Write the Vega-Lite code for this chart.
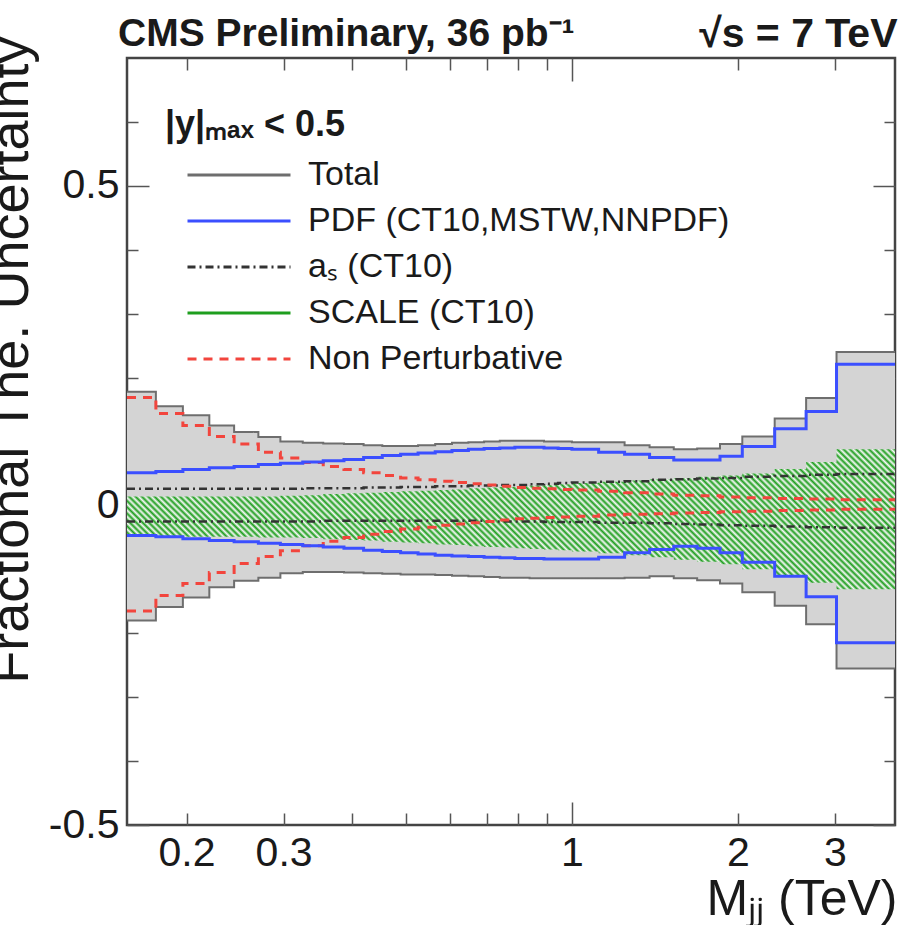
{
  "$schema": "https://vega.github.io/schema/vega-lite/v6.json",
  "width": 768,
  "height": 767,
  "autosize": {"type": "none"},
  "padding": {"left": 127, "top": 58, "right": 7, "bottom": 100},
  "background": "white",
  "title": {"text": "CMS Preliminary, 36 pb⁻¹", "anchor": "start", "frame": "group", "font": "Liberation Sans", "fontSize": 39, "fontWeight": "bold", "color": "#1a1a1a", "baseline": "alphabetic", "offset": 0, "dx": -9, "dy": 72},
  "config": {
    "font": "Liberation Sans",
    "view": {"stroke": "#444444", "strokeWidth": 2.5},
    "axis": {"domain": false, "grid": false, "tickColor": "#555555", "tickWidth": 1.5, "labelFont": "Liberation Sans", "labelColor": "#1a1a1a", "titleFont": "Liberation Sans", "titleColor": "#1a1a1a", "titleFontWeight": "normal", "labelOverlap": false, "labelFlush": false}
  },
  "data": {"values": [
    {"m": 0.156, "tu": 0.178, "td": -0.180, "pu": 0.051, "pd": -0.047, "au": 0.026, "ad": -0.025, "su": 0.014, "sd": -0.048, "nu": 0.169, "nd": -0.165},
    {"m": 0.176, "tu": 0.155, "td": -0.159, "pu": 0.053, "pd": -0.049, "au": 0.026, "ad": -0.025, "su": 0.014, "sd": -0.048, "nu": 0.144, "nd": -0.141},
    {"m": 0.197, "tu": 0.141, "td": -0.144, "pu": 0.056, "pd": -0.052, "au": 0.026, "ad": -0.025, "su": 0.014, "sd": -0.049, "nu": 0.125, "nd": -0.122},
    {"m": 0.220, "tu": 0.125, "td": -0.128, "pu": 0.059, "pd": -0.055, "au": 0.026, "ad": -0.025, "su": 0.014, "sd": -0.049, "nu": 0.108, "nd": -0.105},
    {"m": 0.244, "tu": 0.115, "td": -0.118, "pu": 0.061, "pd": -0.057, "au": 0.026, "ad": -0.025, "su": 0.014, "sd": -0.049, "nu": 0.096, "nd": -0.091},
    {"m": 0.270, "tu": 0.107, "td": -0.113, "pu": 0.064, "pd": -0.059, "au": 0.026, "ad": -0.025, "su": 0.014, "sd": -0.050, "nu": 0.083, "nd": -0.080},
    {"m": 0.296, "tu": 0.100, "td": -0.106, "pu": 0.066, "pd": -0.061, "au": 0.026, "ad": -0.025, "su": 0.015, "sd": -0.050, "nu": 0.074, "nd": -0.071},
    {"m": 0.325, "tu": 0.098, "td": -0.104, "pu": 0.068, "pd": -0.063, "au": 0.027, "ad": -0.025, "su": 0.016, "sd": -0.051, "nu": 0.067, "nd": -0.063},
    {"m": 0.354, "tu": 0.097, "td": -0.104, "pu": 0.070, "pd": -0.065, "au": 0.027, "ad": -0.024, "su": 0.018, "sd": -0.053, "nu": 0.061, "nd": -0.056},
    {"m": 0.386, "tu": 0.096, "td": -0.105, "pu": 0.072, "pd": -0.067, "au": 0.027, "ad": -0.024, "su": 0.019, "sd": -0.054, "nu": 0.056, "nd": -0.050},
    {"m": 0.419, "tu": 0.094, "td": -0.106, "pu": 0.075, "pd": -0.070, "au": 0.028, "ad": -0.024, "su": 0.020, "sd": -0.055, "nu": 0.051, "nd": -0.045},
    {"m": 0.453, "tu": 0.093, "td": -0.107, "pu": 0.078, "pd": -0.072, "au": 0.028, "ad": -0.024, "su": 0.021, "sd": -0.057, "nu": 0.047, "nd": -0.041},
    {"m": 0.489, "tu": 0.093, "td": -0.108, "pu": 0.080, "pd": -0.074, "au": 0.029, "ad": -0.024, "su": 0.022, "sd": -0.058, "nu": 0.043, "nd": -0.037},
    {"m": 0.526, "tu": 0.094, "td": -0.108, "pu": 0.082, "pd": -0.076, "au": 0.029, "ad": -0.024, "su": 0.023, "sd": -0.059, "nu": 0.040, "nd": -0.034},
    {"m": 0.565, "tu": 0.096, "td": -0.109, "pu": 0.084, "pd": -0.078, "au": 0.030, "ad": -0.024, "su": 0.024, "sd": -0.061, "nu": 0.038, "nd": -0.031},
    {"m": 0.606, "tu": 0.098, "td": -0.110, "pu": 0.086, "pd": -0.079, "au": 0.030, "ad": -0.024, "su": 0.025, "sd": -0.062, "nu": 0.036, "nd": -0.029},
    {"m": 0.649, "tu": 0.099, "td": -0.111, "pu": 0.088, "pd": -0.080, "au": 0.031, "ad": -0.024, "su": 0.027, "sd": -0.064, "nu": 0.034, "nd": -0.027},
    {"m": 0.693, "tu": 0.100, "td": -0.112, "pu": 0.089, "pd": -0.081, "au": 0.031, "ad": -0.025, "su": 0.028, "sd": -0.065, "nu": 0.032, "nd": -0.025},
    {"m": 0.740, "tu": 0.101, "td": -0.113, "pu": 0.090, "pd": -0.082, "au": 0.032, "ad": -0.025, "su": 0.029, "sd": -0.066, "nu": 0.030, "nd": -0.023},
    {"m": 0.788, "tu": 0.101, "td": -0.113, "pu": 0.091, "pd": -0.083, "au": 0.032, "ad": -0.025, "su": 0.030, "sd": -0.067, "nu": 0.028, "nd": -0.021},
    {"m": 0.838, "tu": 0.101, "td": -0.114, "pu": 0.091, "pd": -0.083, "au": 0.033, "ad": -0.025, "su": 0.031, "sd": -0.068, "nu": 0.027, "nd": -0.020},
    {"m": 0.890, "tu": 0.100, "td": -0.114, "pu": 0.090, "pd": -0.084, "au": 0.034, "ad": -0.026, "su": 0.032, "sd": -0.069, "nu": 0.026, "nd": -0.019},
    {"m": 0.944, "tu": 0.100, "td": -0.114, "pu": 0.089, "pd": -0.084, "au": 0.035, "ad": -0.026, "su": 0.033, "sd": -0.070, "nu": 0.025, "nd": -0.018},
    {"m": 1.000, "tu": 0.099, "td": -0.114, "pu": 0.088, "pd": -0.084, "au": 0.036, "ad": -0.026, "su": 0.035, "sd": -0.072, "nu": 0.024, "nd": -0.017},
    {"m": 1.118, "tu": 0.099, "td": -0.114, "pu": 0.083, "pd": -0.081, "au": 0.037, "ad": -0.027, "su": 0.037, "sd": -0.075, "nu": 0.022, "nd": -0.015},
    {"m": 1.246, "tu": 0.094, "td": -0.113, "pu": 0.080, "pd": -0.074, "au": 0.038, "ad": -0.027, "su": 0.039, "sd": -0.078, "nu": 0.020, "nd": -0.014},
    {"m": 1.383, "tu": 0.091, "td": -0.111, "pu": 0.075, "pd": -0.069, "au": 0.040, "ad": -0.028, "su": 0.041, "sd": -0.081, "nu": 0.018, "nd": -0.013},
    {"m": 1.530, "tu": 0.088, "td": -0.114, "pu": 0.071, "pd": -0.064, "au": 0.041, "ad": -0.029, "su": 0.043, "sd": -0.085, "nu": 0.016, "nd": -0.012},
    {"m": 1.687, "tu": 0.089, "td": -0.117, "pu": 0.071, "pd": -0.067, "au": 0.042, "ad": -0.030, "su": 0.045, "sd": -0.088, "nu": 0.015, "nd": -0.011},
    {"m": 1.856, "tu": 0.096, "td": -0.122, "pu": 0.077, "pd": -0.074, "au": 0.043, "ad": -0.031, "su": 0.047, "sd": -0.092, "nu": 0.013, "nd": -0.010},
    {"m": 2.037, "tu": 0.108, "td": -0.136, "pu": 0.092, "pd": -0.089, "au": 0.045, "ad": -0.032, "su": 0.050, "sd": -0.100, "nu": 0.012, "nd": -0.009},
    {"m": 2.332, "tu": 0.136, "td": -0.157, "pu": 0.120, "pd": -0.111, "au": 0.046, "ad": -0.033, "su": 0.057, "sd": -0.111, "nu": 0.011, "nd": -0.008},
    {"m": 2.659, "tu": 0.168, "td": -0.186, "pu": 0.147, "pd": -0.143, "au": 0.048, "ad": -0.034, "su": 0.068, "sd": -0.121, "nu": 0.010, "nd": -0.007},
    {"m": 3.019, "tu": 0.240, "td": -0.255, "pu": 0.221, "pd": -0.215, "au": 0.049, "ad": -0.035, "su": 0.088, "sd": -0.131, "nu": 0.009, "nd": -0.006},
    {"m": 3.854, "tu": 0.240, "td": -0.255, "pu": 0.221, "pd": -0.215, "au": 0.049, "ad": -0.035, "su": 0.088, "sd": -0.131, "nu": 0.009, "nd": -0.006}
  ]},
  "encoding": {
    "x": {"field": "m", "type": "quantitative", "scale": {"type": "log", "domain": [0.156, 3.854], "nice": false}, "axis": null}
  },
  "resolve": {"axis": {"x": "independent", "y": "independent"}},
  "layer": [
    {
      "mark": {"type": "area", "interpolate": "step-after", "fill": "#d4d4d4"},
      "encoding": {
        "x": {"field": "m", "type": "quantitative", "scale": {"type": "log", "domain": [0.156, 3.854], "nice": false},
          "axis": {"orient": "bottom", "values": [0.2, 0.3, 0.4, 0.5, 0.6, 0.7, 0.8, 0.9, 1, 2, 3],
            "labelExpr": "datum.value == 0.2 || datum.value == 0.3 || datum.value == 1 || datum.value == 2 || datum.value == 3 ? format(datum.value, '~g') : ''",
            "tickSize": {"condition": {"test": "datum.value == 1", "value": -23}, "value": -12},
            "labelPadding": {"condition": {"test": "datum.value == 1", "value": 31}, "value": 20},
            "labelFontSize": 41, "labelBaseline": "top",
            "title": "Mⱼⱼ (TeV)", "titleFontSize": 50, "titleAlign": "right", "titleBaseline": "alphabetic", "titleX": 770, "titleY": 89}},
        "y": {"field": "tu", "type": "quantitative", "scale": {"domain": [-0.5, 0.7], "nice": false, "zero": false},
          "axis": {"orient": "left", "values": [-0.5, -0.4, -0.3, -0.2, -0.1, 0, 0.1, 0.2, 0.3, 0.4, 0.5, 0.6],
            "labelExpr": "datum.value == 0.5 ? '0.5' : datum.value == 0 ? '0' : datum.value == -0.5 ? '-0.5' : ''",
            "tickSize": {"condition": {"test": "datum.value == 0.5 || datum.value == 0 || datum.value == -0.5", "value": -22}, "value": -11},
            "labelPadding": 30, "labelFontSize": 41,
            "title": "Fractional The. Uncertainty", "titleFontSize": 54, "titleAngle": 270, "titleAlign": "right", "titleBaseline": "alphabetic", "titleX": -100, "titleY": -22}},
        "y2": {"field": "td"}
      }
    },
    {
      "mark": {"type": "area", "interpolate": "step-after", "fill": {"gradient": "linear", "x1": 0, "y1": 1, "x2": 1.2, "y2": 0.78, "stops": [
        {"offset": 0, "color": "#1e9e1e"}, {"offset": 0.0033, "color": "#f8f8f8"}, {"offset": 0.0067, "color": "#1e9e1e"},
        {"offset": 0.01, "color": "#f8f8f8"}, {"offset": 0.0133, "color": "#1e9e1e"}, {"offset": 0.0167, "color": "#f8f8f8"},
        {"offset": 0.02, "color": "#1e9e1e"}, {"offset": 0.0233, "color": "#f8f8f8"}, {"offset": 0.0267, "color": "#1e9e1e"},
        {"offset": 0.03, "color": "#f8f8f8"}, {"offset": 0.0333, "color": "#1e9e1e"}, {"offset": 0.0367, "color": "#f8f8f8"},
        {"offset": 0.04, "color": "#1e9e1e"}, {"offset": 0.0433, "color": "#f8f8f8"}, {"offset": 0.0467, "color": "#1e9e1e"},
        {"offset": 0.05, "color": "#f8f8f8"}, {"offset": 0.0533, "color": "#1e9e1e"}, {"offset": 0.0567, "color": "#f8f8f8"},
        {"offset": 0.06, "color": "#1e9e1e"}, {"offset": 0.0633, "color": "#f8f8f8"}, {"offset": 0.0667, "color": "#1e9e1e"},
        {"offset": 0.07, "color": "#f8f8f8"}, {"offset": 0.0733, "color": "#1e9e1e"}, {"offset": 0.0767, "color": "#f8f8f8"},
        {"offset": 0.08, "color": "#1e9e1e"}, {"offset": 0.0833, "color": "#f8f8f8"}, {"offset": 0.0867, "color": "#1e9e1e"},
        {"offset": 0.09, "color": "#f8f8f8"}, {"offset": 0.0933, "color": "#1e9e1e"}, {"offset": 0.0967, "color": "#f8f8f8"},
        {"offset": 0.10, "color": "#1e9e1e"}, {"offset": 0.1033, "color": "#f8f8f8"}, {"offset": 0.1067, "color": "#1e9e1e"},
        {"offset": 0.11, "color": "#f8f8f8"}, {"offset": 0.1133, "color": "#1e9e1e"}, {"offset": 0.1167, "color": "#f8f8f8"},
        {"offset": 0.12, "color": "#1e9e1e"}, {"offset": 0.1233, "color": "#f8f8f8"}, {"offset": 0.1267, "color": "#1e9e1e"},
        {"offset": 0.13, "color": "#f8f8f8"}, {"offset": 0.1333, "color": "#1e9e1e"}, {"offset": 0.1367, "color": "#f8f8f8"},
        {"offset": 0.14, "color": "#1e9e1e"}, {"offset": 0.1433, "color": "#f8f8f8"}, {"offset": 0.1467, "color": "#1e9e1e"},
        {"offset": 0.15, "color": "#f8f8f8"}, {"offset": 0.1533, "color": "#1e9e1e"}, {"offset": 0.1567, "color": "#f8f8f8"},
        {"offset": 0.16, "color": "#1e9e1e"}, {"offset": 0.1633, "color": "#f8f8f8"}, {"offset": 0.1667, "color": "#1e9e1e"},
        {"offset": 0.17, "color": "#f8f8f8"}, {"offset": 0.1733, "color": "#1e9e1e"}, {"offset": 0.1767, "color": "#f8f8f8"},
        {"offset": 0.18, "color": "#1e9e1e"}, {"offset": 0.1833, "color": "#f8f8f8"}, {"offset": 0.1867, "color": "#1e9e1e"},
        {"offset": 0.19, "color": "#f8f8f8"}, {"offset": 0.1933, "color": "#1e9e1e"}, {"offset": 0.1967, "color": "#f8f8f8"},
        {"offset": 0.20, "color": "#1e9e1e"}, {"offset": 0.2033, "color": "#f8f8f8"}, {"offset": 0.2067, "color": "#1e9e1e"},
        {"offset": 0.21, "color": "#f8f8f8"}, {"offset": 0.2133, "color": "#1e9e1e"}, {"offset": 0.2167, "color": "#f8f8f8"},
        {"offset": 0.22, "color": "#1e9e1e"}, {"offset": 0.2233, "color": "#f8f8f8"}, {"offset": 0.2267, "color": "#1e9e1e"},
        {"offset": 0.23, "color": "#f8f8f8"}, {"offset": 0.2333, "color": "#1e9e1e"}, {"offset": 0.2367, "color": "#f8f8f8"},
        {"offset": 0.24, "color": "#1e9e1e"}, {"offset": 0.2433, "color": "#f8f8f8"}, {"offset": 0.2467, "color": "#1e9e1e"},
        {"offset": 0.25, "color": "#f8f8f8"}, {"offset": 0.2533, "color": "#1e9e1e"}, {"offset": 0.2567, "color": "#f8f8f8"},
        {"offset": 0.26, "color": "#1e9e1e"}, {"offset": 0.2633, "color": "#f8f8f8"}, {"offset": 0.2667, "color": "#1e9e1e"},
        {"offset": 0.27, "color": "#f8f8f8"}, {"offset": 0.2733, "color": "#1e9e1e"}, {"offset": 0.2767, "color": "#f8f8f8"},
        {"offset": 0.28, "color": "#1e9e1e"}, {"offset": 0.2833, "color": "#f8f8f8"}, {"offset": 0.2867, "color": "#1e9e1e"},
        {"offset": 0.29, "color": "#f8f8f8"}, {"offset": 0.2933, "color": "#1e9e1e"}, {"offset": 0.2967, "color": "#f8f8f8"},
        {"offset": 0.30, "color": "#1e9e1e"}, {"offset": 0.3033, "color": "#f8f8f8"}, {"offset": 0.3067, "color": "#1e9e1e"},
        {"offset": 0.31, "color": "#f8f8f8"}, {"offset": 0.3133, "color": "#1e9e1e"}, {"offset": 0.3167, "color": "#f8f8f8"},
        {"offset": 0.32, "color": "#1e9e1e"}, {"offset": 0.3233, "color": "#f8f8f8"}, {"offset": 0.3267, "color": "#1e9e1e"},
        {"offset": 0.33, "color": "#f8f8f8"}, {"offset": 0.3333, "color": "#1e9e1e"}, {"offset": 0.3367, "color": "#f8f8f8"},
        {"offset": 0.34, "color": "#1e9e1e"}, {"offset": 0.3433, "color": "#f8f8f8"}, {"offset": 0.3467, "color": "#1e9e1e"},
        {"offset": 0.35, "color": "#f8f8f8"}, {"offset": 0.3533, "color": "#1e9e1e"}, {"offset": 0.3567, "color": "#f8f8f8"},
        {"offset": 0.36, "color": "#1e9e1e"}, {"offset": 0.3633, "color": "#f8f8f8"}, {"offset": 0.3667, "color": "#1e9e1e"},
        {"offset": 0.37, "color": "#f8f8f8"}, {"offset": 0.3733, "color": "#1e9e1e"}, {"offset": 0.3767, "color": "#f8f8f8"},
        {"offset": 0.38, "color": "#1e9e1e"}, {"offset": 0.3833, "color": "#f8f8f8"}, {"offset": 0.3867, "color": "#1e9e1e"},
        {"offset": 0.39, "color": "#f8f8f8"}, {"offset": 0.3933, "color": "#1e9e1e"}, {"offset": 0.3967, "color": "#f8f8f8"},
        {"offset": 0.40, "color": "#1e9e1e"}, {"offset": 0.4033, "color": "#f8f8f8"}, {"offset": 0.4067, "color": "#1e9e1e"},
        {"offset": 0.41, "color": "#f8f8f8"}, {"offset": 0.4133, "color": "#1e9e1e"}, {"offset": 0.4167, "color": "#f8f8f8"},
        {"offset": 0.42, "color": "#1e9e1e"}, {"offset": 0.4233, "color": "#f8f8f8"}, {"offset": 0.4267, "color": "#1e9e1e"},
        {"offset": 0.43, "color": "#f8f8f8"}, {"offset": 0.4333, "color": "#1e9e1e"}, {"offset": 0.4367, "color": "#f8f8f8"},
        {"offset": 0.44, "color": "#1e9e1e"}, {"offset": 0.4433, "color": "#f8f8f8"}, {"offset": 0.4467, "color": "#1e9e1e"},
        {"offset": 0.45, "color": "#f8f8f8"}, {"offset": 0.4533, "color": "#1e9e1e"}, {"offset": 0.4567, "color": "#f8f8f8"},
        {"offset": 0.46, "color": "#1e9e1e"}, {"offset": 0.4633, "color": "#f8f8f8"}, {"offset": 0.4667, "color": "#1e9e1e"},
        {"offset": 0.47, "color": "#f8f8f8"}, {"offset": 0.4733, "color": "#1e9e1e"}, {"offset": 0.4767, "color": "#f8f8f8"},
        {"offset": 0.48, "color": "#1e9e1e"}, {"offset": 0.4833, "color": "#f8f8f8"}, {"offset": 0.4867, "color": "#1e9e1e"},
        {"offset": 0.49, "color": "#f8f8f8"}, {"offset": 0.4933, "color": "#1e9e1e"}, {"offset": 0.4967, "color": "#f8f8f8"},
        {"offset": 0.50, "color": "#1e9e1e"}, {"offset": 0.5033, "color": "#f8f8f8"}, {"offset": 0.5067, "color": "#1e9e1e"},
        {"offset": 0.51, "color": "#f8f8f8"}, {"offset": 0.5133, "color": "#1e9e1e"}, {"offset": 0.5167, "color": "#f8f8f8"},
        {"offset": 0.52, "color": "#1e9e1e"}, {"offset": 0.5233, "color": "#f8f8f8"}, {"offset": 0.5267, "color": "#1e9e1e"},
        {"offset": 0.53, "color": "#f8f8f8"}, {"offset": 0.5333, "color": "#1e9e1e"}, {"offset": 0.5367, "color": "#f8f8f8"},
        {"offset": 0.54, "color": "#1e9e1e"}, {"offset": 0.5433, "color": "#f8f8f8"}, {"offset": 0.5467, "color": "#1e9e1e"},
        {"offset": 0.55, "color": "#f8f8f8"}, {"offset": 0.5533, "color": "#1e9e1e"}, {"offset": 0.5567, "color": "#f8f8f8"},
        {"offset": 0.56, "color": "#1e9e1e"}, {"offset": 0.5633, "color": "#f8f8f8"}, {"offset": 0.5667, "color": "#1e9e1e"},
        {"offset": 0.57, "color": "#f8f8f8"}, {"offset": 0.5733, "color": "#1e9e1e"}, {"offset": 0.5767, "color": "#f8f8f8"},
        {"offset": 0.58, "color": "#1e9e1e"}, {"offset": 0.5833, "color": "#f8f8f8"}, {"offset": 0.5867, "color": "#1e9e1e"},
        {"offset": 0.59, "color": "#f8f8f8"}, {"offset": 0.5933, "color": "#1e9e1e"}, {"offset": 0.5967, "color": "#f8f8f8"},
        {"offset": 0.60, "color": "#1e9e1e"}, {"offset": 0.6033, "color": "#f8f8f8"}, {"offset": 0.6067, "color": "#1e9e1e"},
        {"offset": 0.61, "color": "#f8f8f8"}, {"offset": 0.6133, "color": "#1e9e1e"}, {"offset": 0.6167, "color": "#f8f8f8"},
        {"offset": 0.62, "color": "#1e9e1e"}, {"offset": 0.6233, "color": "#f8f8f8"}, {"offset": 0.6267, "color": "#1e9e1e"},
        {"offset": 0.63, "color": "#f8f8f8"}, {"offset": 0.6333, "color": "#1e9e1e"}, {"offset": 0.6367, "color": "#f8f8f8"},
        {"offset": 0.64, "color": "#1e9e1e"}, {"offset": 0.6433, "color": "#f8f8f8"}, {"offset": 0.6467, "color": "#1e9e1e"},
        {"offset": 0.65, "color": "#f8f8f8"}, {"offset": 0.6533, "color": "#1e9e1e"}, {"offset": 0.6567, "color": "#f8f8f8"},
        {"offset": 0.66, "color": "#1e9e1e"}, {"offset": 0.6633, "color": "#f8f8f8"}, {"offset": 0.6667, "color": "#1e9e1e"},
        {"offset": 0.67, "color": "#f8f8f8"}, {"offset": 0.6733, "color": "#1e9e1e"}, {"offset": 0.6767, "color": "#f8f8f8"},
        {"offset": 0.68, "color": "#1e9e1e"}, {"offset": 0.6833, "color": "#f8f8f8"}, {"offset": 0.6867, "color": "#1e9e1e"},
        {"offset": 0.69, "color": "#f8f8f8"}, {"offset": 0.6933, "color": "#1e9e1e"}, {"offset": 0.6967, "color": "#f8f8f8"},
        {"offset": 0.70, "color": "#1e9e1e"}, {"offset": 0.7033, "color": "#f8f8f8"}, {"offset": 0.7067, "color": "#1e9e1e"},
        {"offset": 0.71, "color": "#f8f8f8"}, {"offset": 0.7133, "color": "#1e9e1e"}, {"offset": 0.7167, "color": "#f8f8f8"},
        {"offset": 0.72, "color": "#1e9e1e"}, {"offset": 0.7233, "color": "#f8f8f8"}, {"offset": 0.7267, "color": "#1e9e1e"},
        {"offset": 0.73, "color": "#f8f8f8"}, {"offset": 0.7333, "color": "#1e9e1e"}, {"offset": 0.7367, "color": "#f8f8f8"},
        {"offset": 0.74, "color": "#1e9e1e"}, {"offset": 0.7433, "color": "#f8f8f8"}, {"offset": 0.7467, "color": "#1e9e1e"},
        {"offset": 0.75, "color": "#f8f8f8"}, {"offset": 0.7533, "color": "#1e9e1e"}, {"offset": 0.7567, "color": "#f8f8f8"},
        {"offset": 0.76, "color": "#1e9e1e"}, {"offset": 0.7633, "color": "#f8f8f8"}, {"offset": 0.7667, "color": "#1e9e1e"},
        {"offset": 0.77, "color": "#f8f8f8"}, {"offset": 0.7733, "color": "#1e9e1e"}, {"offset": 0.7767, "color": "#f8f8f8"},
        {"offset": 0.78, "color": "#1e9e1e"}, {"offset": 0.7833, "color": "#f8f8f8"}, {"offset": 0.7867, "color": "#1e9e1e"},
        {"offset": 0.79, "color": "#f8f8f8"}, {"offset": 0.7933, "color": "#1e9e1e"}, {"offset": 0.7967, "color": "#f8f8f8"},
        {"offset": 0.80, "color": "#1e9e1e"}, {"offset": 0.8033, "color": "#f8f8f8"}, {"offset": 0.8067, "color": "#1e9e1e"},
        {"offset": 0.81, "color": "#f8f8f8"}, {"offset": 0.8133, "color": "#1e9e1e"}, {"offset": 0.8167, "color": "#f8f8f8"},
        {"offset": 0.82, "color": "#1e9e1e"}, {"offset": 0.8233, "color": "#f8f8f8"}, {"offset": 0.8267, "color": "#1e9e1e"},
        {"offset": 0.83, "color": "#f8f8f8"}, {"offset": 0.8333, "color": "#1e9e1e"}, {"offset": 0.8367, "color": "#f8f8f8"},
        {"offset": 0.84, "color": "#1e9e1e"}, {"offset": 0.8433, "color": "#f8f8f8"}, {"offset": 0.8467, "color": "#1e9e1e"},
        {"offset": 0.85, "color": "#f8f8f8"}, {"offset": 0.8533, "color": "#1e9e1e"}, {"offset": 0.8567, "color": "#f8f8f8"},
        {"offset": 0.86, "color": "#1e9e1e"}, {"offset": 0.8633, "color": "#f8f8f8"}, {"offset": 0.8667, "color": "#1e9e1e"},
        {"offset": 0.87, "color": "#f8f8f8"}, {"offset": 0.8733, "color": "#1e9e1e"}, {"offset": 0.8767, "color": "#f8f8f8"},
        {"offset": 0.88, "color": "#1e9e1e"}, {"offset": 0.8833, "color": "#f8f8f8"}, {"offset": 0.8867, "color": "#1e9e1e"},
        {"offset": 0.89, "color": "#f8f8f8"}, {"offset": 0.8933, "color": "#1e9e1e"}, {"offset": 0.8967, "color": "#f8f8f8"},
        {"offset": 0.90, "color": "#1e9e1e"}, {"offset": 0.9033, "color": "#f8f8f8"}, {"offset": 0.9067, "color": "#1e9e1e"},
        {"offset": 0.91, "color": "#f8f8f8"}, {"offset": 0.9133, "color": "#1e9e1e"}, {"offset": 0.9167, "color": "#f8f8f8"},
        {"offset": 0.92, "color": "#1e9e1e"}, {"offset": 0.9233, "color": "#f8f8f8"}, {"offset": 0.9267, "color": "#1e9e1e"},
        {"offset": 0.93, "color": "#f8f8f8"}, {"offset": 0.9333, "color": "#1e9e1e"}, {"offset": 0.9367, "color": "#f8f8f8"},
        {"offset": 0.94, "color": "#1e9e1e"}, {"offset": 0.9433, "color": "#f8f8f8"}, {"offset": 0.9467, "color": "#1e9e1e"},
        {"offset": 0.95, "color": "#f8f8f8"}, {"offset": 0.9533, "color": "#1e9e1e"}, {"offset": 0.9567, "color": "#f8f8f8"},
        {"offset": 0.96, "color": "#1e9e1e"}, {"offset": 0.9633, "color": "#f8f8f8"}, {"offset": 0.9667, "color": "#1e9e1e"},
        {"offset": 0.97, "color": "#f8f8f8"}, {"offset": 0.9733, "color": "#1e9e1e"}, {"offset": 0.9767, "color": "#f8f8f8"},
        {"offset": 0.98, "color": "#1e9e1e"}, {"offset": 0.9833, "color": "#f8f8f8"}, {"offset": 0.9867, "color": "#1e9e1e"},
        {"offset": 0.99, "color": "#f8f8f8"}, {"offset": 0.9933, "color": "#1e9e1e"}, {"offset": 0.9967, "color": "#f8f8f8"},
        {"offset": 1, "color": "#1e9e1e"}
      ]}},
      "encoding": {
        "y": {"field": "su", "type": "quantitative", "scale": {"domain": [-0.5, 0.7], "nice": false, "zero": false}, "axis": null},
        "y2": {"field": "sd"}
      }
    },
    {"mark": {"type": "line", "interpolate": "step-after", "strokeWidth": 2},
     "encoding": {
       "y": {"field": "tu", "type": "quantitative", "scale": {"domain": [-0.5, 0.7]}, "axis": null},
       "color": {"datum": "Total", "type": "nominal",
         "scale": {"domain": ["Total", "PDF (CT10,MSTW,NNPDF)", "aₛ (CT10)", "SCALE (CT10)", "Non Perturbative"], "range": ["#6e6e6e", "#3b4fff", "#333333", "#1e9e1e", "#f2453d"]},
         "legend": {
           "title": "|y|ₘₐₓ < 0.5", "orient": "none", "legendX": 38, "legendY": 50, "padding": 0,
           "titleFont": "Liberation Sans", "titleFontSize": 36, "titleFontWeight": "bold", "titleColor": "#1a1a1a", "titlePadding": 8, "titleLimit": 1000,
           "labelFont": "Liberation Sans", "labelFontSize": 34, "labelColor": "#1a1a1a", "labelOffset": 16, "labelLimit": 1000,
           "clipHeight": 46, "rowPadding": 0, "symbolOffset": 21, "symbolSize": 10609, "symbolType": "stroke", "symbolStrokeWidth": 3,
           "encode": {"symbols": {"update": {
             "shape": {"condition": {"test": "datum.value === 'Total' || datum.label === 'Total' || datum.value === 'SCALE (CT10)' || datum.label === 'SCALE (CT10)'", "value": "M-1,-0.33H1V0.33H-1Z"}, "value": "stroke"},
             "fill": {"condition": [
               {"test": "datum.value === 'Total' || datum.label === 'Total'", "value": "#d4d4d4"},
               {"test": "datum.value === 'SCALE (CT10)' || datum.label === 'SCALE (CT10)'", "value": "#7cc67c"}
             ], "value": "transparent"}
           }}}
         }},
       "strokeDash": {"datum": "Total", "type": "nominal",
         "scale": {"domain": ["Total", "PDF (CT10,MSTW,NNPDF)", "aₛ (CT10)", "SCALE (CT10)", "Non Perturbative"], "range": [[1, 0], [1, 0], [8, 4, 2, 4], [1, 0], [9, 7]]},
         "legend": {
           "title": "|y|ₘₐₓ < 0.5", "orient": "none", "legendX": 38, "legendY": 50, "padding": 0,
           "titleFont": "Liberation Sans", "titleFontSize": 36, "titleFontWeight": "bold", "titleColor": "#1a1a1a", "titlePadding": 8, "titleLimit": 1000,
           "labelFont": "Liberation Sans", "labelFontSize": 34, "labelColor": "#1a1a1a", "labelOffset": 16, "labelLimit": 1000,
           "clipHeight": 46, "rowPadding": 0, "symbolOffset": 21, "symbolSize": 10609, "symbolType": "stroke", "symbolStrokeWidth": 3
         }}
     }},
    {"mark": {"type": "line", "interpolate": "step-after", "strokeWidth": 2},
     "encoding": {
       "y": {"field": "td", "type": "quantitative", "scale": {"domain": [-0.5, 0.7]}, "axis": null},
       "color": {"datum": "Total", "type": "nominal", "scale": {"domain": ["Total", "PDF (CT10,MSTW,NNPDF)", "aₛ (CT10)", "SCALE (CT10)", "Non Perturbative"], "range": ["#6e6e6e", "#3b4fff", "#333333", "#1e9e1e", "#f2453d"]}},
       "strokeDash": {"datum": "Total", "type": "nominal", "scale": {"domain": ["Total", "PDF (CT10,MSTW,NNPDF)", "aₛ (CT10)", "SCALE (CT10)", "Non Perturbative"], "range": [[1, 0], [1, 0], [8, 4, 2, 4], [1, 0], [9, 7]]}}
     }},
    {"mark": {"type": "line", "interpolate": "step-after", "strokeWidth": 2.5},
     "encoding": {
       "y": {"field": "au", "type": "quantitative", "scale": {"domain": [-0.5, 0.7]}, "axis": null},
       "color": {"datum": "aₛ (CT10)", "type": "nominal", "scale": {"domain": ["Total", "PDF (CT10,MSTW,NNPDF)", "aₛ (CT10)", "SCALE (CT10)", "Non Perturbative"], "range": ["#6e6e6e", "#3b4fff", "#333333", "#1e9e1e", "#f2453d"]}},
       "strokeDash": {"datum": "aₛ (CT10)", "type": "nominal", "scale": {"domain": ["Total", "PDF (CT10,MSTW,NNPDF)", "aₛ (CT10)", "SCALE (CT10)", "Non Perturbative"], "range": [[1, 0], [1, 0], [8, 4, 2, 4], [1, 0], [9, 7]]}}
     }},
    {"mark": {"type": "line", "interpolate": "step-after", "strokeWidth": 2.5},
     "encoding": {
       "y": {"field": "ad", "type": "quantitative", "scale": {"domain": [-0.5, 0.7]}, "axis": null},
       "color": {"datum": "aₛ (CT10)", "type": "nominal", "scale": {"domain": ["Total", "PDF (CT10,MSTW,NNPDF)", "aₛ (CT10)", "SCALE (CT10)", "Non Perturbative"], "range": ["#6e6e6e", "#3b4fff", "#333333", "#1e9e1e", "#f2453d"]}},
       "strokeDash": {"datum": "aₛ (CT10)", "type": "nominal", "scale": {"domain": ["Total", "PDF (CT10,MSTW,NNPDF)", "aₛ (CT10)", "SCALE (CT10)", "Non Perturbative"], "range": [[1, 0], [1, 0], [8, 4, 2, 4], [1, 0], [9, 7]]}}
     }},
    {"mark": {"type": "line", "interpolate": "step-after", "strokeWidth": 3},
     "encoding": {
       "y": {"field": "nu", "type": "quantitative", "scale": {"domain": [-0.5, 0.7]}, "axis": null},
       "color": {"datum": "Non Perturbative", "type": "nominal", "scale": {"domain": ["Total", "PDF (CT10,MSTW,NNPDF)", "aₛ (CT10)", "SCALE (CT10)", "Non Perturbative"], "range": ["#6e6e6e", "#3b4fff", "#333333", "#1e9e1e", "#f2453d"]}},
       "strokeDash": {"datum": "Non Perturbative", "type": "nominal", "scale": {"domain": ["Total", "PDF (CT10,MSTW,NNPDF)", "aₛ (CT10)", "SCALE (CT10)", "Non Perturbative"], "range": [[1, 0], [1, 0], [8, 4, 2, 4], [1, 0], [9, 7]]}}
     }},
    {"mark": {"type": "line", "interpolate": "step-after", "strokeWidth": 3},
     "encoding": {
       "y": {"field": "nd", "type": "quantitative", "scale": {"domain": [-0.5, 0.7]}, "axis": null},
       "color": {"datum": "Non Perturbative", "type": "nominal", "scale": {"domain": ["Total", "PDF (CT10,MSTW,NNPDF)", "aₛ (CT10)", "SCALE (CT10)", "Non Perturbative"], "range": ["#6e6e6e", "#3b4fff", "#333333", "#1e9e1e", "#f2453d"]}},
       "strokeDash": {"datum": "Non Perturbative", "type": "nominal", "scale": {"domain": ["Total", "PDF (CT10,MSTW,NNPDF)", "aₛ (CT10)", "SCALE (CT10)", "Non Perturbative"], "range": [[1, 0], [1, 0], [8, 4, 2, 4], [1, 0], [9, 7]]}}
     }},
    {"mark": {"type": "line", "interpolate": "step-after", "strokeWidth": 3},
     "encoding": {
       "y": {"field": "pu", "type": "quantitative", "scale": {"domain": [-0.5, 0.7]}, "axis": null},
       "color": {"datum": "PDF (CT10,MSTW,NNPDF)", "type": "nominal", "scale": {"domain": ["Total", "PDF (CT10,MSTW,NNPDF)", "aₛ (CT10)", "SCALE (CT10)", "Non Perturbative"], "range": ["#6e6e6e", "#3b4fff", "#333333", "#1e9e1e", "#f2453d"]}},
       "strokeDash": {"datum": "PDF (CT10,MSTW,NNPDF)", "type": "nominal", "scale": {"domain": ["Total", "PDF (CT10,MSTW,NNPDF)", "aₛ (CT10)", "SCALE (CT10)", "Non Perturbative"], "range": [[1, 0], [1, 0], [8, 4, 2, 4], [1, 0], [9, 7]]}}
     }},
    {"mark": {"type": "line", "interpolate": "step-after", "strokeWidth": 3},
     "encoding": {
       "x": {"field": "m", "type": "quantitative", "scale": {"type": "log", "domain": [0.156, 3.854], "nice": false},
         "axis": {"orient": "top", "values": [0.2, 0.3, 0.4, 0.5, 0.6, 0.7, 0.8, 0.9, 1, 2, 3], "labels": false,
           "tickSize": {"condition": {"test": "datum.value == 1", "value": -23}, "value": -12},
           "title": "√s = 7 TeV", "titleFontSize": 41, "titleFontWeight": "bold", "titleAlign": "right", "titleBaseline": "alphabetic", "titleX": 770, "titleY": -12}},
       "y": {"field": "pd", "type": "quantitative", "scale": {"domain": [-0.5, 0.7]},
         "axis": {"orient": "right", "values": [-0.5, -0.4, -0.3, -0.2, -0.1, 0, 0.1, 0.2, 0.3, 0.4, 0.5, 0.6], "labels": false,
           "tickSize": {"condition": {"test": "datum.value == 0.5 || datum.value == 0 || datum.value == -0.5", "value": -22}, "value": -11},
           "title": null}},
       "color": {"datum": "PDF (CT10,MSTW,NNPDF)", "type": "nominal", "scale": {"domain": ["Total", "PDF (CT10,MSTW,NNPDF)", "aₛ (CT10)", "SCALE (CT10)", "Non Perturbative"], "range": ["#6e6e6e", "#3b4fff", "#333333", "#1e9e1e", "#f2453d"]}},
       "strokeDash": {"datum": "PDF (CT10,MSTW,NNPDF)", "type": "nominal", "scale": {"domain": ["Total", "PDF (CT10,MSTW,NNPDF)", "aₛ (CT10)", "SCALE (CT10)", "Non Perturbative"], "range": [[1, 0], [1, 0], [8, 4, 2, 4], [1, 0], [9, 7]]}}
     }}
  ]
}
